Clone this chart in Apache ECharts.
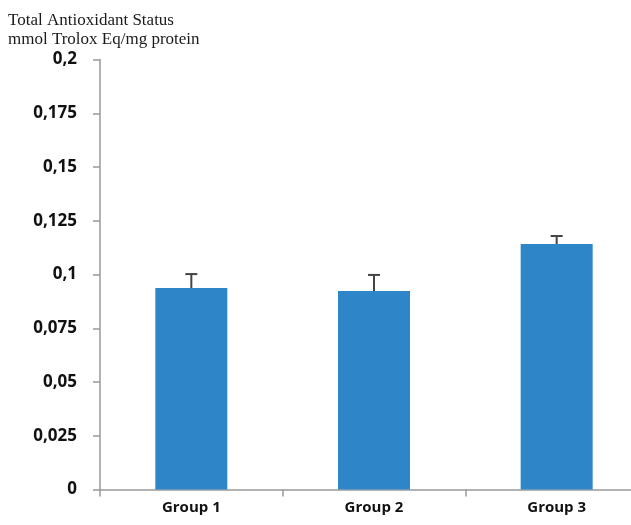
<!DOCTYPE html>
<html>
<head>
<meta charset="utf-8">
<script src="https://cdn.jsdelivr.net/npm/echarts@6/dist/echarts.min.js"></script>
<style>
  html, body { margin: 0; padding: 0; background: #fff; }
  #main { width: 631px; height: 525px; }
</style>
</head>
<body>
<div id="main"></div>
<script>
// Data
var groups = ["Group 1", "Group 2", "Group 3"];
var means = [0.0937, 0.0923, 0.1142];
var errUpper = [0.1002, 0.0998, 0.1179];

var myChart = echarts.init(document.getElementById("main"));

var errData = groups.map(function (g, i) {
  return [i, means[i], errUpper[i]];
});

var option = {
  animation: false,
  backgroundColor: "#fff",
  title: {
    text: "Total Antioxidant Status\nmmol Trolox Eq/mg protein",
    left: 3,
    top: 6,
    textStyle: {
      fontFamily: "Liberation Serif",
      fontWeight: "normal",
      fontSize: 17,
      lineHeight: 19,
      color: "#1a1a1a",
    },
  },
  // plot area runs past the right edge, like the original
  grid: {
    left: 100,
    width: 548,
    top: 59.5,
    height: 430,
    outerBoundsMode: "none",
  },
  xAxis: {
    type: "category",
    data: groups,
    axisLine: { lineStyle: { color: "#999", width: 1.5 } },
    axisTick: { show: true, length: 7, lineStyle: { color: "#999", width: 1.5 } },
    axisLabel: {
      margin: 11,
      fontFamily: "Open Sans",
      fontWeight: "bold",
      fontSize: 15,
      color: "#111",
    },
  },
  yAxis: {
    type: "value",
    min: 0,
    max: 0.2,
    interval: 0.025,
    splitLine: { show: false },
    axisLine: { show: true, lineStyle: { color: "#999", width: 1.5 } },
    axisTick: { show: true, length: 7, lineStyle: { color: "#999", width: 1.5 } },
    axisLabel: {
      margin: 23,
      fontFamily: "Open Sans",
      fontWeight: "bold",
      fontSize: 17,
      color: "#111",
      formatter: function (v) {
        return String(+v.toFixed(3)).replace(".", ",");
      },
    },
  },
  series: [
    {
      type: "bar",
      data: means,
      barWidth: 72,
      itemStyle: { color: "#2e86c8" },
      z: 2,
    },
    {
      type: "custom",
      data: errData,
      z: 3,
      renderItem: function (params, api) {
        var top = api.coord([api.value(0), api.value(2)]);
        var base = api.coord([api.value(0), api.value(1)]);
        var style = { stroke: "#444", lineWidth: 2 };
        return {
          type: "group",
          children: [
            { type: "line", shape: { x1: top[0], y1: top[1], x2: base[0], y2: base[1] }, style: style },
            { type: "line", shape: { x1: top[0] - 6, y1: top[1], x2: top[0] + 6, y2: top[1] }, style: style },
          ],
        };
      },
    },
  ],
};

myChart.setOption(option);
</script>
</body>
</html>
